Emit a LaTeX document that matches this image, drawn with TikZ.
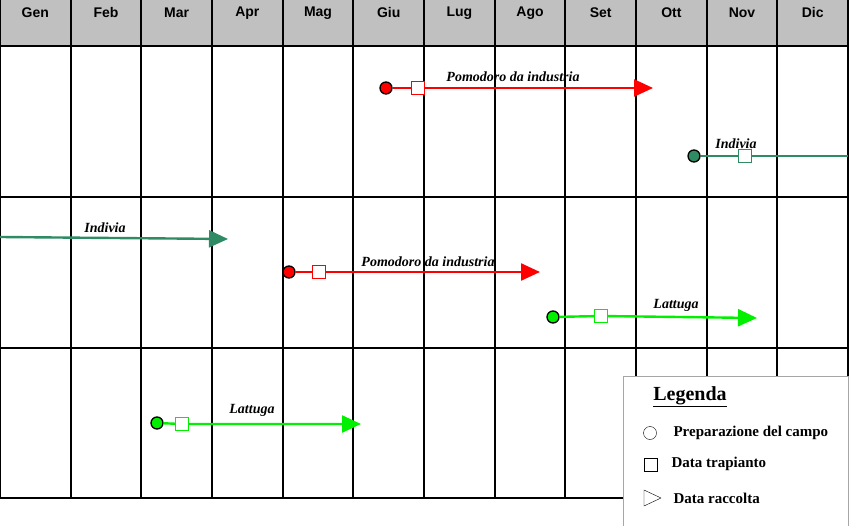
\documentclass[tikz,border=0pt]{standalone}
\usepackage{fontspec}
\setmainfont{Liberation Serif}
\newfontfamily\hdfont{Liberation Sans}
\usetikzlibrary{arrows.meta}
\definecolor{teal1}{RGB}{46,139,100}
\definecolor{hdgray}{RGB}{192,192,192}
\definecolor{green1}{RGB}{0,240,0}
\tikzset{
  prep/.style={circle, draw=black, line width=1.3pt, inner sep=0pt, minimum size=12pt},
  trap/.style={rectangle, draw=#1, line width=1.3pt, fill=white, inner sep=0pt, minimum size=13pt},
  crop/.style={line width=2.4pt, draw=#1, -{Triangle[length=19pt,width=17pt]}},
  croplbl/.style={font=\bfseries\itshape\fontsize{14}{16}\selectfont},
  month/.style={font=\hdfont\bfseries\fontsize{14}{16}\selectfont}
}
\begin{document}
\begin{tikzpicture}[x=1pt,y=-1pt]
        \useasboundingbox (0,0) rectangle (850,526);

        % Header
        \fill[hdgray] (0,0) rectangle (848,46);
        \foreach \m [count=\i] in {Gen,Feb,Mar,Apr,Mag,Giu,Lug,Ago,Set,Ott,Nov,Dic}
            \node[month] (m\i) at ({(\i-0.5)*70.67},13) {\m};

        % Grid
        \foreach \i in {0,...,12}
            \draw[line width=2pt] ({\i*70.67},0) -- ({\i*70.67},498);
        \foreach \y in {46,197,348,498}
            \draw[line width=2pt] (0,\y) -- (848,\y);

        % Pomodoro (Giu)
        \node[prep, fill=red] (p1) at (386,88) {};
        \node[trap=red] (t1) at (418,88) {};
        \coordinate (r1) at (653,88);
        \draw[crop=red] (p1) -- (t1) -- (r1);
        \node[croplbl] at (513,77) {Pomodoro da industria};

        % Indivia (Ott)
        \node[prep, fill=teal1] (p2) at (694,156) {};
        \node[trap=teal1] (t2) at (745,156) {};
        \coordinate (r2) at (848,156);
        \draw[line width=2.4pt, teal1] (p2) -- (t2) -- (r2);
        \node[croplbl] at (736,144) {Indivia};

        % Indivia (Gen)
        \coordinate (s3) at (0,237);
        \coordinate (r3) at (228,239);
        \draw[crop=teal1] (s3) -- (r3);
        \node[croplbl] at (105,228) {Indivia};

        % Pomodoro (Mag)
        \node[prep, fill=red] (p4) at (289,272) {};
        \node[trap=red] (t4) at (319,272) {};
        \coordinate (r4) at (540,272);
        \draw[crop=red] (p4) -- (t4) -- (r4);
        \node[croplbl] at (428,262) {Pomodoro da industria};

        % Lattuga (Ago)
        \node[prep, fill=green1] (p5) at (553,317) {};
        \node[trap=green1] (t5) at (601,316) {};
        \coordinate (r5) at (757,318);
        \draw[crop=green1] (p5) -- (t5) -- (r5);
        \node[croplbl] at (676,305) {Lattuga};

        % Lattuga (Mar)
        \node[prep, fill=green1] (p6) at (157,423) {};
        \node[trap=green1] (t6) at (182,424) {};
        \coordinate (r6) at (361,424);
        \draw[crop=green1] (p6) -- (t6) -- (r6);
        \node[croplbl] at (252,410) {Lattuga};

        % Legend
        \draw[fill=white, draw=gray!70] (623,376) rectangle (848,526);
        \node[font=\bfseries\fontsize{20}{22}\selectfont] (lg) at (690,397) {\underline{Legenda}};
        \draw (650,433) circle (6.5);
        \node[anchor=west, font=\bfseries\fontsize{15}{17}\selectfont] (l1) at (670,433) {Preparazione del campo};
        \draw (644,458) rectangle (657,471);
        \node[anchor=west, font=\bfseries\fontsize{15}{17}\selectfont] (l2) at (668,464) {Data trapianto};
        \draw (644,490) -- (661,498) -- (644,506) -- cycle;
        \node[anchor=west, font=\bfseries\fontsize{15}{17}\selectfont] (l3) at (670,498) {Data raccolta};
\end{tikzpicture}
\end{document}
